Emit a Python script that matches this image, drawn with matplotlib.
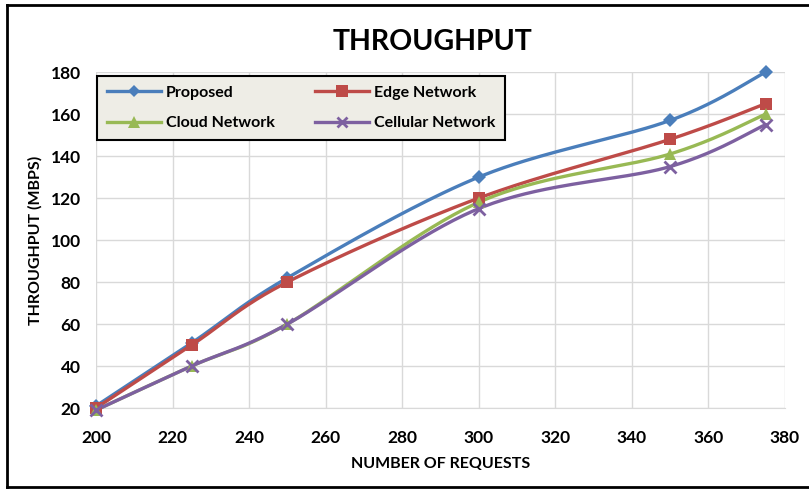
import numpy as np
import matplotlib
matplotlib.use("Agg")
import matplotlib.pyplot as plt
from matplotlib.lines import Line2D

requests = [200, 225, 250, 300, 350, 375]
proposed = [21, 51, 82, 130, 157, 180]
edge = [20, 50, 80, 120, 148, 165]
cloud = [19, 40, 60, 118, 141, 160]
cellular = [19, 40, 60, 115, 135, 155]

series = [
    ("Proposed", proposed, "#4a7ebb", "D", 7),
    ("Edge Network", edge, "#be4b48", "s", 9),
    ("Cloud Network", cloud, "#98b954", "^", 9),
    ("Cellular Network", cellular, "#7d60a0", "x", 8),
]


def smooth(xs, ys, n=40):
    """Bezier smoothing through every point (Catmull-Rom style control points)."""
    xs = np.asarray(xs, float)
    ys = np.asarray(ys, float)
    px = np.concatenate([[xs[0]], xs, [xs[-1]]])
    py = np.concatenate([[ys[0]], ys, [ys[-1]]])
    out_x, out_y = [], []
    t = np.linspace(0, 1, n)
    for i in range(1, len(px) - 2):
        p0 = np.array([px[i], py[i]])
        p3 = np.array([px[i + 1], py[i + 1]])
        c1 = p0 + (p3 - np.array([px[i - 1], py[i - 1]])) / 6.0
        c2 = p3 - (np.array([px[i + 2], py[i + 2]]) - p0) / 6.0
        b = ((1 - t) ** 3)[:, None] * p0 + (3 * (1 - t) ** 2 * t)[:, None] * c1 \
            + (3 * (1 - t) * t ** 2)[:, None] * c2 + (t ** 3)[:, None] * p3
        out_x.extend(b[:, 0])
        out_y.extend(b[:, 1])
    return out_x, out_y


plt.rcParams["font.family"] = ["Lato", "DejaVu Sans"]
fig = plt.figure(figsize=(8.09, 4.91), dpi=100)
ax = fig.add_axes([0.1187, 0.169, 0.8513, 0.684])

handles = {}
for name, vals, color, marker, ms in series:
    sx, sy = smooth(requests, vals)
    ax.plot(sx, sy, color=color, lw=2.4, solid_capstyle="round", zorder=3,
            clip_on=False)
    mew = 2 if marker == "x" else 0
    ax.plot(requests, vals, linestyle="none", marker=marker, markersize=ms,
            color=color, markeredgewidth=mew, zorder=4, clip_on=False)
    handles[name] = Line2D([0], [0], color=color, lw=2.4, marker=marker,
                           markersize=ms - 1, markeredgewidth=mew, label=name)

ax.set_xlim(200, 380)
ax.set_ylim(20, 180)
ax.set_xticks(np.arange(200, 381, 20))
ax.set_yticks(np.arange(20, 181, 20))
ax.grid(True, color="#d9d9d9", lw=1)
ax.set_axisbelow(True)
for side in ["top", "right", "left"]:
    ax.spines[side].set_visible(False)
ax.spines["bottom"].set_color("#d9d9d9")
ax.tick_params(axis="x", length=0, labelsize=12.5, pad=16)
ax.tick_params(axis="y", length=0, labelsize=12.5, pad=11)
for lab in ax.get_xticklabels() + ax.get_yticklabels():
    lab.set_fontweight("bold")

ax.set_xlabel("NUMBER OF REQUESTS", fontsize=11.5, fontweight="bold", labelpad=8)
ax.set_ylabel("THROUGHPUT (MBPS)", fontsize=11.5, fontweight="bold", labelpad=6)
fig.text(0.535, 0.915, "THROUGHPUT", ha="center", va="center",
         fontsize=20.5, fontweight="bold")

# legend filled row by row: Proposed, Edge / Cloud, Cellular
order = ["Proposed", "Cloud Network", "Edge Network", "Cellular Network"]
leg = ax.legend(handles=[handles[k] for k in order], ncol=2, loc="upper left",
                bbox_to_anchor=(0.0015, 0.803, 0.592, 0.185), mode="expand",
                frameon=True, fancybox=False, borderaxespad=0,
                edgecolor="black", facecolor="#eeede6", framealpha=1,
                prop={"weight": "bold", "size": 11.5}, handlelength=3.4,
                borderpad=0.6, labelspacing=1.0, handletextpad=0.3)
leg.get_frame().set_linewidth(1.5)

# outer frame
frame_kw = dict(color="black", lw=2, transform=fig.transFigure, clip_on=False)
fig.add_artist(Line2D([7 / 809, 7 / 809], [1 - 5 / 491, 1 - 487 / 491], **frame_kw))
fig.add_artist(Line2D([7 / 809, 1], [1 - 5 / 491, 1 - 5 / 491], **frame_kw))
fig.add_artist(Line2D([7 / 809, 1], [1 - 487 / 491, 1 - 487 / 491], **frame_kw))

fig.savefig("out.png", dpi=100, facecolor="white")
